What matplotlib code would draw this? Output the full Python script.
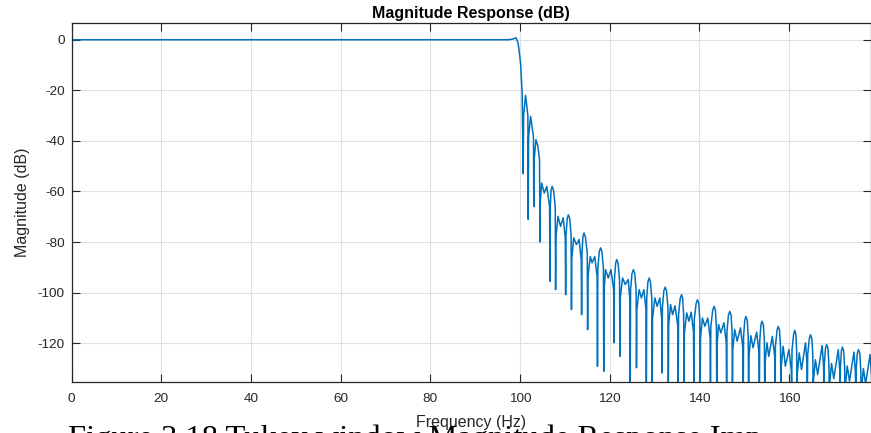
import matplotlib.pyplot as plt

# Passband and transition band vertices (Hz, dB)
pass_f = [0.0, 97.5, 98.5, 99.1, 99.6, 100.15, 100.5, 100.74,
          100.82, 101.27, 101.78, 101.86,
          101.94, 102.38, 103.02, 103.1,
          103.18, 103.57, 104.0, 104.38, 104.46]
pass_db = [0.0, 0.0, 0.3, 0.8, -1.3, -9.2, -21.0, -53.0,
           -30.0, -22.0, -30.0, -71.0,
           -38.3, -30.3, -38.3, -66.0,
           -47.5, -39.5, -42.0, -47.5, -80.0]

# Stopband lobes: main lobe, null, pair of side bumps, null, ...
stop_f = [
    104.54, 104.84, 105.42, 106.0, 106.62, 106.7, 106.78, 106.95, 107.2, 107.5, 107.88, 107.96,
    108.04, 108.5, 109.07, 109.66, 110.12, 110.2, 110.28, 110.55, 110.8, 111.1, 111.42, 111.5,
    111.58, 112.0, 112.6, 113.2, 113.68, 113.76, 113.84, 114.05, 114.3, 114.6, 115.02, 115.1,
    115.18, 115.7, 116.1, 116.7, 117.22, 117.3, 117.38, 117.7, 118.0, 118.3, 118.62, 118.7,
    118.78, 119.1, 119.7, 120.3, 120.92, 121.0, 121.08, 121.35, 121.6, 121.9, 122.22, 122.3,
    122.38, 122.9, 123.5, 124.15, 124.52, 124.6, 124.68, 125.0, 125.3, 125.6, 125.92, 126.0,
    126.08, 126.6, 127.1, 127.65, 128.12, 128.2, 128.28, 128.55, 128.83, 129.1, 129.42, 129.5,
    129.58, 130.1, 130.6, 131.2, 131.62, 131.7, 131.78, 132.1, 132.4, 132.7, 133.02, 133.1,
    133.18, 133.6, 134.05, 134.6, 135.22, 135.3, 135.38, 135.75, 136.05, 136.3, 136.52, 136.6,
    136.68, 137.2, 137.7, 138.2, 138.72, 138.8, 138.88, 139.3, 139.6, 139.9, 140.12, 140.2,
    140.28, 140.7, 141.25, 141.9, 142.42, 142.5, 142.58, 143.0, 143.3, 143.6, 143.82, 143.9,
    143.98, 144.3, 144.8, 145.5, 146.02, 146.1, 146.18, 146.5, 146.8, 147.1, 147.32, 147.4,
    147.48, 147.9, 148.45, 149.2, 149.72, 149.8, 149.88, 150.15, 150.4, 150.7, 150.92, 151.0,
    151.08, 151.5, 152.0, 152.8, 153.32, 153.4, 153.48, 153.75, 154.0, 154.3, 154.52, 154.6,
    154.68, 155.1, 155.5, 156.3, 156.82, 156.9, 156.98, 157.35, 157.6, 157.9, 158.12, 158.2,
    158.28, 158.7, 159.2, 160.0, 160.52, 160.6, 160.68, 161.05, 161.3, 161.55, 161.72, 161.8,
    161.88, 162.3, 162.8, 163.7, 164.02, 164.1, 164.18, 164.55, 164.8, 165.1, 165.32, 165.4,
    165.48, 165.9, 166.4, 167.4, 167.72, 167.8, 167.88, 168.15, 168.4, 168.7, 168.92, 169.0,
    169.08, 169.5, 170.0, 171.0, 171.32, 171.4, 171.48, 171.7, 171.9, 172.2, 172.42, 172.5,
    172.58, 173.0, 173.5, 174.5, 174.82, 174.9, 174.98, 175.25, 175.5, 175.8, 176.02, 176.1,
    176.18, 176.6, 177.1, 178.1, 178.42, 178.5,
]
stop_db = [
    -64.6, -56.6, -60.6, -58.0, -66.0, -95.5, -66.0, -59.5, -58.0, -59.5, -66.0, -98.8,
    -77.8, -69.8, -73.8, -70.4, -78.4, -100.8, -77.2, -70.7, -69.2, -70.7, -77.2, -106.7,
    -86.3, -78.3, -81.0, -79.0, -87.0, -108.7, -84.4, -77.9, -76.4, -77.9, -84.4, -114.6,
    -93.7, -85.7, -88.2, -85.7, -93.7, -129.1, -90.3, -83.8, -82.3, -83.8, -90.3, -131.1,
    -98.9, -90.9, -94.2, -90.9, -98.9, -119.8, -94.9, -88.4, -86.9, -88.4, -94.9, -125.2,
    -102.2, -94.2, -96.8, -94.8, -102.8, -140.0, -98.9, -92.4, -90.9, -92.4, -98.9, -129.7,
    -106.8, -98.8, -102.1, -98.8, -106.8, -140.0, -102.2, -95.7, -94.2, -95.7, -102.2, -140.0,
    -110.1, -102.1, -105.4, -102.1, -110.1, -131.7, -105.8, -99.3, -97.8, -99.3, -105.8, -140.0,
    -112.7, -104.7, -108.7, -105.2, -113.2, -140.0, -108.8, -102.3, -100.8, -102.3, -108.8, -140.0,
    -116.0, -108.0, -111.3, -107.7, -115.7, -140.0, -110.8, -104.3, -102.8, -104.3, -110.8, -140.0,
    -118.0, -110.0, -113.3, -110.0, -118.0, -140.0, -113.4, -106.9, -105.4, -106.9, -113.4, -140.0,
    -120.6, -112.6, -115.9, -111.9, -119.9, -140.0, -115.4, -108.9, -107.4, -108.9, -115.4, -140.0,
    -122.6, -114.6, -119.2, -113.9, -121.9, -140.0, -117.4, -110.9, -109.4, -110.9, -117.4, -140.0,
    -125.0, -117.0, -121.8, -115.6, -123.6, -140.0, -119.3, -112.8, -111.3, -112.8, -119.3, -140.0,
    -127.8, -119.8, -125.2, -117.3, -125.3, -140.0, -121.3, -114.8, -113.3, -114.8, -121.3, -140.0,
    -129.2, -121.2, -129.1, -122.5, -130.5, -140.0, -122.9, -116.4, -114.9, -116.4, -122.9, -140.0,
    -131.8, -123.8, -130.4, -119.8, -127.8, -140.0, -124.6, -118.1, -116.6, -118.1, -124.6, -140.0,
    -134.5, -126.5, -132.4, -120.9, -128.9, -140.0, -128.5, -122.0, -120.5, -122.0, -128.5, -140.0,
    -136.0, -128.0, -134.0, -122.5, -130.5, -140.0, -129.5, -123.0, -121.5, -123.0, -129.5, -140.0,
    -137.0, -129.0, -135.0, -123.5, -131.5, -140.0, -130.5, -124.0, -122.5, -124.0, -130.5, -140.0,
    -138.0, -130.0, -136.0, -124.5, -132.5, -140.0,
]

x_ticks = [0, 20, 40, 60, 80, 100, 120, 140, 160]
y_ticks = [-120, -100, -80, -60, -40, -20, 0]
caption = 'Figure 3.18 Tukey window Magnitude Response Imp'

plt.rcParams['font.family'] = ['Liberation Sans', 'DejaVu Sans']
plt.rcParams['axes.unicode_minus'] = False
dark = '#262626'

fig = plt.figure(figsize=(8.71, 4.33), dpi=100)
ax = fig.add_axes([71.5 / 871, 1 - 381.7 / 433, 1 - 71.5 / 871, (381.7 - 23.3) / 433])

ax.plot(pass_f + stop_f, pass_db + stop_db, color='#0072BD', lw=1.1)

ax.set_xlim(0, 178.3)
ax.set_ylim(-135.2, 6.5)
ax.set_xticks(x_ticks)
ax.set_yticks(y_ticks)
ax.grid(True, color='#e0e0e0', lw=0.8)
ax.set_axisbelow(True)
ax.tick_params(direction='in', length=6, width=0.8, colors=dark, labelsize=9.7,
               top=True, right=True)
ax.tick_params(axis='x', pad=8)
ax.tick_params(axis='y', pad=5)
for s in ax.spines.values():
    s.set_color(dark)
    s.set_linewidth(0.9)

ax.set_title('Magnitude Response (dB)', fontsize=11.5, fontweight='bold', color='black', pad=4)
ax.set_xlabel('Frequency (Hz)', fontsize=11.5, color=dark, labelpad=7)
ax.set_ylabel('Magnitude (dB)', fontsize=11.5, color=dark, labelpad=5)

# caption line of the page, cut by the lower edge
fig.text(68 / 871, 1 - 425 / 433, caption, family='Liberation Serif', fontsize=23.4,
         va='top', ha='left', color='black')

plt.savefig('out.png', dpi=100)
